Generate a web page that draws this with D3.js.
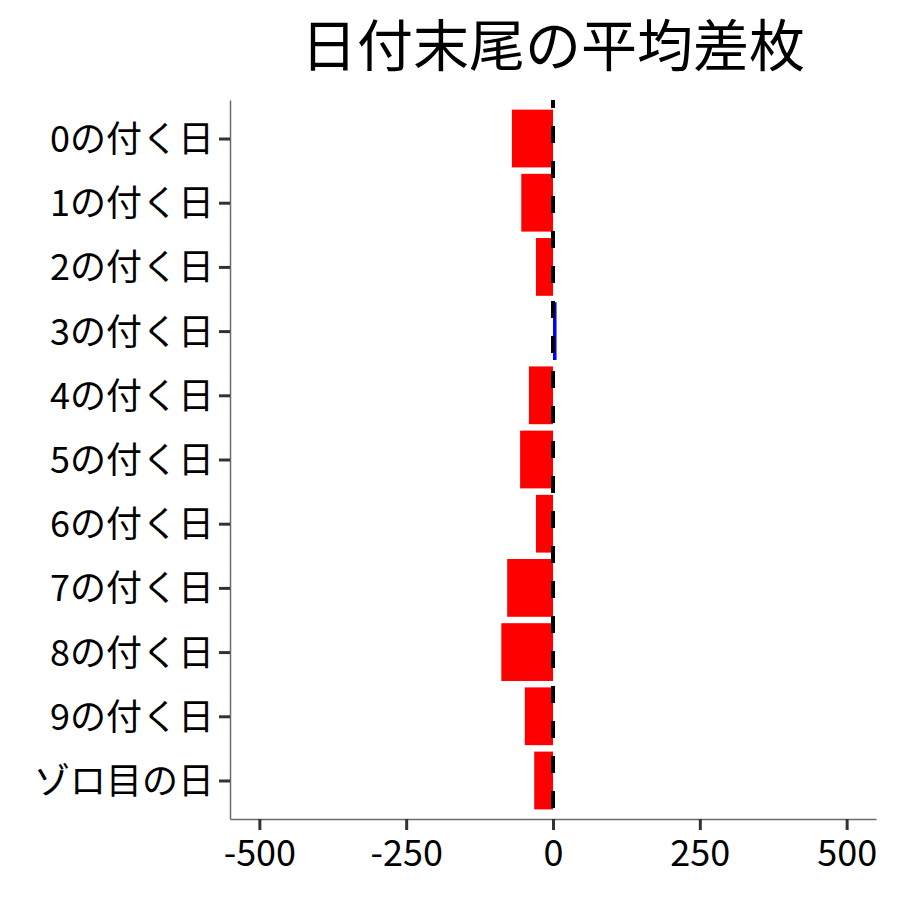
<!DOCTYPE html>
<html>
<head>
<meta charset="utf-8">
<script src="https://cdn.jsdelivr.net/npm/d3@7"></script>
<style>
  body { margin: 0; background: #fff; }
</style>
</head>
<body>
<div id="chart"></div>
<script>
const categories = ["0の付く日", "1の付く日", "2の付く日", "3の付く日", "4の付く日",
  "5の付く日", "6の付く日", "7の付く日", "8の付く日", "9の付く日", "ゾロ目の日"];
const values = [-70, -54, -29, 6, -41, -56, -29, -78, -88, -48, -32];
const xTicks = [-500, -250, 0, 250, 500];
const title = "日付末尾の平均差枚";

const width = 900;
const height = 900;
const margin = { top: 100, right: 24, bottom: 81, left: 230 };
const font = "'Noto Sans CJK JP', 'Noto Sans', sans-serif";

const svg = d3.select("#chart").append("svg")
  .attr("width", width)
  .attr("height", height)
  .style("font-family", font);

const x = d3.scaleLinear()
  .domain([-550, 550])
  .range([margin.left, width - margin.right]);

const y = d3.scalePoint()
  .domain(categories)
  .range([margin.top, height - margin.bottom])
  .padding(0.6);

const barH = y.step() * 0.9;

const data = categories.map((c, i) => ({ cat: c, value: values[i] }));

// bars
svg.append("g")
  .selectAll("rect")
  .data(data)
  .join("rect")
    .attr("x", d => x(Math.min(0, d.value)))
    .attr("y", d => y(d.cat) - barH / 2)
    .attr("width", d => Math.abs(x(d.value) - x(0)))
    .attr("height", barH)
    .attr("fill", d => d.value < 0 ? "#ff0000" : "#0000ff");

// zero line
svg.append("line")
  .attr("x1", x(0)).attr("x2", x(0))
  .attr("y1", margin.top).attr("y2", height - margin.bottom)
  .attr("stroke", "#000")
  .attr("stroke-width", 4)
  .attr("stroke-dasharray", "17,18")
  .attr("stroke-dashoffset", 9);

// x axis
const xAxis = svg.append("g")
  .attr("transform", `translate(0,${height - margin.bottom})`)
  .call(d3.axisBottom(x).tickValues(xTicks).tickSize(11).tickSizeOuter(0)
    .tickPadding(5).tickFormat(d => String(d)));

// y axis
const yAxis = svg.append("g")
  .attr("transform", `translate(${margin.left},0)`)
  .call(d3.axisLeft(y).tickSize(11).tickSizeOuter(0).tickPadding(5));

[xAxis, yAxis].forEach(g => {
  g.select(".domain").attr("stroke", "#6b6b6b").attr("stroke-width", 1.5);
  g.selectAll(".tick line").attr("stroke", "#333").attr("stroke-width", 3);
  g.selectAll(".tick text")
    .attr("fill", "#000")
    .style("font-family", font)
    .style("font-size", "36px");
});
xAxis.selectAll(".tick text").attr("dy", "0.85em");
yAxis.selectAll(".tick text").attr("dy", "0.36em");

// title
svg.append("text")
  .attr("x", (margin.left + width - margin.right) / 2)
  .attr("y", 66)
  .attr("text-anchor", "middle")
  .style("font-family", font)
  .style("font-size", "56px")
  .style("fill", "#000")
  .text(title);
</script>
</body>
</html>
